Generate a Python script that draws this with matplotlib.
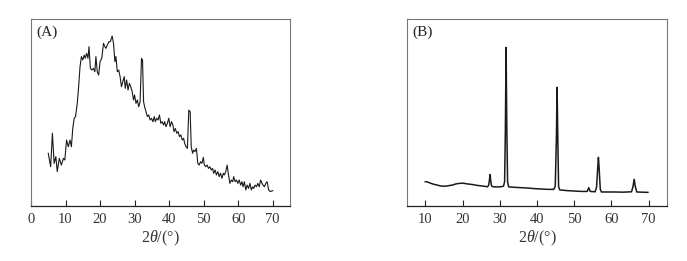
import matplotlib
matplotlib.use("Agg")
import matplotlib.pyplot as plt

plt.rcParams['font.family'] = ['Liberation Serif', 'DejaVu Serif']
plt.rcParams['mathtext.fontset'] = 'custom'
plt.rcParams['mathtext.rm'] = 'Liberation Serif'
plt.rcParams['mathtext.it'] = 'Liberation Serif:italic'

# Panel A: 2theta (deg) vs relative intensity
a_x = [5.0, 5.7, 6.2, 6.7, 7.2, 7.6, 8.2, 8.8, 9.4, 9.8, 10.3, 10.8, 11.3, 11.7, 12.1,
       12.5, 12.9, 13.4, 13.8, 14.2, 14.6, 15.0, 15.4, 15.7, 16.1, 16.5, 16.8, 17.2,
       17.6, 18.1, 18.5, 18.8, 19.2, 19.6, 20.0, 20.5, 21.0, 21.4, 21.7, 22.1, 22.6,
       23.0, 23.5, 23.9, 24.3, 24.6, 25.0, 25.4, 25.8, 26.2, 26.6, 27.0, 27.3, 27.7,
       28.1, 28.5, 28.9, 29.3, 29.7, 30.0, 30.4, 30.8, 31.2, 31.6, 32.0, 32.3, 32.6,
       32.9, 33.3, 33.7, 34.1, 34.5, 34.9, 35.3, 35.7, 36.0, 36.4, 36.8, 37.2, 37.6,
       38.0, 38.4, 38.7, 39.1, 39.5, 39.9, 40.3, 40.7, 41.1, 41.4, 41.8, 42.2, 42.6,
       43.0, 43.4, 43.8, 44.2, 44.5, 44.9, 45.3, 45.7, 46.1, 46.4, 46.8, 47.1, 47.5,
       47.9, 48.3, 48.7, 49.1, 49.5, 49.9, 50.2, 50.6, 51.0, 51.4, 51.8, 52.2, 52.6,
       52.9, 53.3, 53.7, 54.1, 54.5, 54.9, 55.3, 55.7, 56.0, 56.4, 56.8, 57.2, 57.6,
       58.0, 58.4, 58.7, 59.1, 59.5, 59.9, 60.3, 60.7, 61.1, 61.4, 61.8, 62.2, 62.6,
       63.0, 63.4, 63.8, 64.2, 64.5, 64.9, 65.3, 65.7, 66.1, 66.5, 66.9, 67.2, 67.6,
       68.0, 68.4, 68.8, 69.3, 70.0]
a_y = [28.2, 21.0, 38.9, 22.8, 26.4, 18.4, 25.5, 21.9, 25.5, 24.6, 35.3, 31.7, 35.3, 31.7, 41.5,
       46.9, 47.8, 54.9, 63.8, 74.5, 79.9, 78.1, 80.7, 79.0, 81.6, 79.0, 85.2, 73.6,
       72.7, 73.6, 71.8, 79.9, 71.8, 70.0, 77.2, 79.0, 87.0, 85.2, 84.3, 86.1, 87.9,
       87.9, 90.9, 87.0, 77.2, 79.9, 71.8, 72.7, 69.2, 63.8, 66.5, 69.2, 62.9, 67.4,
       62.0, 65.6, 63.8, 61.1, 56.7, 59.4, 54.9, 56.7, 53.1, 55.8, 79.0, 78.0, 55.8,
       53.1, 50.4, 47.8, 48.7, 46.0, 46.9, 45.1, 47.8, 45.1, 46.9, 46.0, 48.7, 44.2,
       45.1, 43.3, 45.1, 42.4, 44.2, 46.9, 42.4, 45.1, 43.3, 39.8, 41.5, 38.9, 39.8,
       37.1, 38.0, 35.3, 36.2, 33.5, 31.7, 30.8, 51.3, 50.4, 31.7, 28.2, 29.9, 29.1,
       30.8, 22.8, 21.9, 23.7, 22.8, 26.0, 21.9, 21.0, 21.9, 20.1, 21.0, 19.3, 20.1,
       17.5, 19.3, 16.6, 18.4, 15.7, 17.5, 14.8, 17.5, 16.6, 18.4, 21.9, 16.6, 12.1,
       13.9, 13.0, 15.7, 13.0, 13.9, 12.1, 13.9, 11.2, 13.0, 10.3, 13.0, 8.6, 11.2,
       9.4, 12.1, 8.6, 10.3, 9.4, 11.2, 10.3, 12.1, 10.3, 13.9, 12.1, 11.2, 10.3,
       12.1, 13.0, 8.6, 7.7, 8.2]

# Panel B
b_x = [10.0, 10.5, 11.0, 11.7, 12.3, 13.2, 14.1, 15.0, 15.9, 16.6, 17.3, 18.2, 19.1, 20.2,
       21.3, 22.6, 24.0, 25.3, 26.7, 27.0, 27.2, 27.4, 27.6, 27.8, 28.1, 29.2, 30.3, 31.0,
       31.3, 31.5, 31.7, 31.9, 32.1, 32.4, 34.0, 35.7, 37.5, 39.3, 41.1, 42.9, 44.5,
       44.9, 45.2, 45.4, 45.6, 45.8, 46.1, 47.2, 48.3, 50.1, 51.9, 53.5, 53.9, 54.3,
       55.6, 56.0, 56.3, 56.5, 56.7, 57.0, 57.3, 59.0, 60.9, 63.1, 65.4, 65.8, 66.1,
       66.4, 66.8, 68.2, 69.8]
b_y = [13.0, 12.9, 12.5, 12.0, 11.6, 11.2, 10.7, 10.6, 10.7, 11.0, 11.2, 11.8, 12.1, 12.2,
       11.8, 11.5, 11.0, 10.7, 10.3, 11.0, 13.5, 16.8, 13.0, 10.8, 10.3, 10.2, 10.3, 10.6,
       13.0, 40.0, 84.8, 40.0, 13.0, 10.2, 10.0, 9.8, 9.6, 9.3, 9.1, 8.9, 8.9,
       10.5, 35.0, 63.5, 35.0, 10.5, 8.6, 8.4, 8.2, 8.0, 7.8, 7.8, 9.8, 7.8,
       7.6, 10.0, 20.0, 26.0, 20.0, 9.0, 7.5, 7.5, 7.5, 7.4, 7.6, 10.5, 14.3,
       10.5, 7.5, 7.4, 7.3]

ticks = [0, 10, 20, 30, 40, 50, 60, 70]

fig = plt.figure(figsize=(6.87, 2.61), dpi=100)
axA = fig.add_axes([0.0451, 0.2107, 0.3770, 0.7165])
axB = fig.add_axes([0.5920, 0.2107, 0.3793, 0.7165])

def style(ax, xlim, label):
    ax.set_xlim(*xlim)
    ax.set_ylim(0, 100)
    ax.set_yticks([])
    ax.set_xticks([t for t in ticks if xlim[0] <= t <= xlim[1]])
    ax.tick_params(axis='x', direction='in', length=4, width=0.8, color='#222222',
                   labelsize=10.5, labelcolor='#333333', pad=5)
    for s in ['top', 'right', 'left']:
        ax.spines[s].set_color('#777777')
        ax.spines[s].set_linewidth(0.8)
    ax.spines['bottom'].set_color('#222222')
    ax.spines['bottom'].set_linewidth(0.9)
    ax.set_xlabel(r'$2\mathit{\theta}$/(°)', fontsize=11.5, color='#333333', labelpad=2)
    ax.text(0.022, 0.965, label, transform=ax.transAxes, ha='left', va='top',
            fontsize=11, color='#222222')

axA.plot(a_x, a_y, color='#1a1a1a', lw=0.8)
style(axA, (0, 75), '(A)')
axB.plot(b_x, b_y, color='#1a1a1a', lw=1.1)
style(axB, (5, 75), '(B)')

fig.savefig('out.png', dpi=100)
